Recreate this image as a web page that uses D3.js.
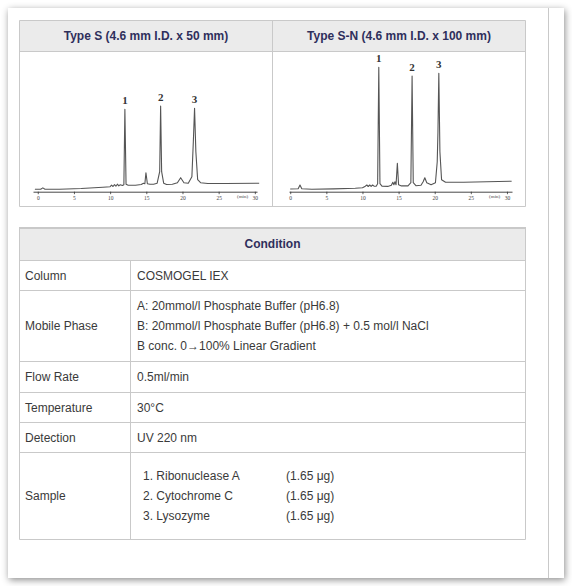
<!DOCTYPE html>
<html>
<head>
<meta charset="utf-8">
<script src="https://cdn.jsdelivr.net/npm/d3@7"></script>
<style>
  body { margin: 0; background: #fff; width: 572px; height: 586px; overflow: hidden; }
  #panel { position: absolute; left: 8px; top: 8px; width: 556px; height: 570px; background: #fff;
           box-shadow: 1px 2px 7px rgba(0,0,0,0.45); }
  #vis { position: absolute; left: 0; top: 0; }
  text { font-family: Arial, "Liberation Sans", sans-serif; }
  text.serif { font-family: "Liberation Serif", "Times New Roman", serif; }
</style>
</head>
<body>
<div id="panel"></div>
<div id="vis"></div>
<script>
const width = 572;
const height = 586;

// column titles
const columnTitles = ["Type S (4.6 mm I.D. x 50 mm)", "Type S-N (4.6 mm I.D. x 100 mm)"];

// chromatogram, Type S : time (min) / signal
const typeSTime = [-0.4, 0.4, 0.7, 1.0, 3, 6, 9, 10, 10.2, 10.4, 10.6, 10.8, 11.0, 11.2, 11.4, 11.7, 11.9, 12.04, 12.2, 12.5, 13.5,
  14.3, 14.6, 14.8, 14.95, 15.15, 15.5, 16.0, 16.5, 16.85, 16.98, 17.12, 17.4, 17.8, 18.6, 19.3, 19.75, 20.2, 20.8,
  21.3, 21.5, 21.67, 21.85, 22.1, 22.5, 23.5, 26, 30.6];
const typeSSignal = [2.4, 2.4, 3.8, 2.4, 2.5, 3.2, 4.5, 5, 6.5, 5.2, 7, 5.5, 7.5, 5.8, 7, 6.2, 7, 82.4, 7.5, 6.5, 6.5,
  7.2, 8.5, 8, 19, 8, 7.5, 7.5, 8.5, 20, 85.7, 20, 8.5, 7.2, 7.5, 9, 14, 9, 8.5,
  15, 50, 83.4, 40, 12, 9, 8.2, 8.2, 8.5];

// chromatogram, Type S-N
const typeSNTime = [0, 1.1, 1.35, 1.6, 3, 6, 9, 10, 10.4, 10.6, 10.8, 11.0, 11.2, 11.4, 11.6, 11.9, 12.1, 12.26, 12.42, 12.7, 13.5,
  14.0, 14.2, 14.35, 14.5, 14.65, 14.83, 15.0, 15.4, 16.3, 16.7, 16.87, 17.03, 17.4, 18.1, 18.4, 18.63, 18.9, 19.5,
  20.1, 20.35, 20.45, 20.57, 20.72, 20.95, 21.5, 24, 30.65];
const typeSNSignal = [2.7, 2.9, 6.7, 3, 2.5, 2.8, 3.5, 4, 5.5, 6.7, 5.2, 6.7, 5.3, 6.7, 5.5, 5.5, 8, 124.4, 8, 5.5, 5.3,
  6.5, 9.5, 7, 10, 7, 28.4, 7, 5.8, 5.8, 9, 115.7, 9, 6, 6.5, 10, 14, 9, 7,
  9, 30, 60, 118.4, 40, 12, 9.4, 9.5, 10.5];

// numbered peaks
const peakLabels = ["1", "2", "3"];
const typeSPeakTime = [12.04, 16.98, 21.67];
const typeSPeakSignal = [82.4, 85.7, 83.4];
const typeSNPeakTime = [12.26, 16.87, 20.57];
const typeSNPeakSignal = [124.4, 115.7, 118.4];

const timeTicks = [0, 5, 10, 15, 20, 25, 30];

// condition table
const conditionTitle = "Condition";
const conditionLabels = ["Column", "Mobile Phase", "Flow Rate", "Temperature", "Detection", "Sample"];
const conditionValues = [
  ["COSMOGEL IEX"],
  ["A: 20mmol/l Phosphate Buffer (pH6.8)", "B: 20mmol/l Phosphate Buffer (pH6.8) + 0.5 mol/l NaCl", "B conc. 0\u2192100% Linear Gradient"],
  ["0.5ml/min"],
  ["30\u00B0C"],
  ["UV 220 nm"]
];
const sampleNames = ["1. Ribonuclease A", "2. Cytochrome C", "3. Lysozyme"];
const sampleAmounts = ["(1.65 \u03BCg)", "(1.65 \u03BCg)", "(1.65 \u03BCg)"];

const borderColor = "#c9c9c9";
const headFill = "#ebebeb";
const headText = "#2f2f5c";
const bodyText = "#3a3a3a";

const svg = d3.select("#vis")
  .append("svg")
  .attr("width", width)
  .attr("height", height);

// divider on the right of the panel
svg.append("line")
  .attr("x1", 548.5).attr("x2", 548.5).attr("y1", 8).attr("y2", 578)
  .attr("stroke", borderColor);

// ---------- top table with the two chromatograms ----------
const t1 = { left: 19.5, right: 525.5, top: 20.5, headBottom: 51.5, bottom: 206.5, mid: 272.5 };

svg.append("rect")
  .attr("x", t1.left).attr("y", t1.top)
  .attr("width", t1.right - t1.left).attr("height", t1.headBottom - t1.top)
  .attr("fill", headFill);

const t1Lines = [
  [t1.left, t1.top, t1.right, t1.top],
  [t1.left, t1.headBottom, t1.right, t1.headBottom],
  [t1.left, t1.bottom, t1.right, t1.bottom],
  [t1.left, t1.top, t1.left, t1.bottom],
  [t1.right, t1.top, t1.right, t1.bottom],
  [t1.mid, t1.top, t1.mid, t1.bottom]
];
svg.selectAll("line.t1")
  .data(t1Lines)
  .enter()
  .append("line")
  .attr("class", "t1")
  .attr("x1", d => d[0]).attr("y1", d => d[1]).attr("x2", d => d[2]).attr("y2", d => d[3])
  .attr("stroke", borderColor);

svg.selectAll("text.coltitle")
  .data(columnTitles)
  .enter()
  .append("text")
  .attr("class", "coltitle")
  .attr("x", (d, i) => i === 0 ? (t1.left + t1.mid) / 2 : (t1.mid + t1.right) / 2)
  .attr("y", 40)
  .attr("text-anchor", "middle")
  .attr("font-size", "12px")
  .attr("font-weight", "bold")
  .attr("fill", headText)
  .text(d => d);

const yScale = d3.scaleLinear().domain([0, 130]).range([191.7, 61.7]);

function drawChromatogram(times, signals, peakT, peakS, domain, range) {
  const xScale = d3.scaleLinear().domain(domain).range(range);
  const g = svg.append("g");

  const xAxis = d3.axisBottom(xScale)
    .tickValues(timeTicks)
    .tickSize(2.5)
    .tickSizeOuter(0)
    .tickPadding(1.5)
    .tickFormat(d3.format("d"));

  const ax = g.append("g")
    .attr("transform", "translate(0,191.7)")
    .call(xAxis);
  ax.select(".domain").attr("stroke", "#333").attr("stroke-width", 0.9);
  ax.selectAll(".tick line").attr("stroke", "#333").attr("stroke-width", 0.8);
  ax.selectAll(".tick text")
    .attr("class", "serif")
    .attr("fill", "#444")
    .attr("font-size", "5.5px");

  g.append("text")
    .attr("class", "serif")
    .attr("x", xScale(28.3))
    .attr("y", 197.8)
    .attr("text-anchor", "middle")
    .attr("font-size", "5px")
    .attr("fill", "#444")
    .text("(min)");

  const pts = times.map((t, i) => [t, signals[i]]);
  const line = d3.line()
    .x(d => xScale(d[0]))
    .y(d => yScale(d[1]));

  g.append("path")
    .datum(pts)
    .attr("d", line)
    .attr("fill", "none")
    .attr("stroke", "#555")
    .attr("stroke-width", 1.1)
    .attr("stroke-linejoin", "round");

  g.selectAll("text.peak")
    .data(peakLabels)
    .enter()
    .append("text")
    .attr("class", "serif")
    .attr("x", (d, i) => xScale(peakT[i]))
    .attr("y", (d, i) => yScale(peakS[i]) - 5.5)
    .attr("text-anchor", "middle")
    .attr("font-size", "11px")
    .attr("font-weight", "bold")
    .attr("fill", "#333")
    .text(d => d);
}

drawChromatogram(typeSTime, typeSSignal, typeSPeakTime, typeSPeakSignal, [-0.66, 30.3], [33, 257]);
drawChromatogram(typeSNTime, typeSNSignal, typeSNPeakTime, typeSNPeakSignal, [-0.17, 30.7], [289, 512]);

// ---------- condition table ----------
const t2 = { left: 19.5, right: 525.5, top: 228, headBottom: 260.5, split: 130.5 };
const rowEdges = [260.5, 290.5, 361.5, 392.5, 422.5, 452.5, 539.5];

svg.append("rect")
  .attr("x", t2.left).attr("y", t2.top)
  .attr("width", t2.right - t2.left).attr("height", t2.headBottom - t2.top)
  .attr("fill", headFill);

svg.append("line")
  .attr("x1", t2.left - 0.5).attr("x2", t2.right + 0.5).attr("y1", t2.top).attr("y2", t2.top)
  .attr("stroke", borderColor).attr("stroke-width", 2);

svg.selectAll("line.row")
  .data(rowEdges)
  .enter()
  .append("line")
  .attr("class", "row")
  .attr("x1", t2.left).attr("x2", t2.right)
  .attr("y1", d => d).attr("y2", d => d)
  .attr("stroke", borderColor);

[t2.left, t2.right].forEach(x => {
  svg.append("line")
    .attr("x1", x).attr("x2", x).attr("y1", t2.top).attr("y2", rowEdges[rowEdges.length - 1])
    .attr("stroke", borderColor);
});
svg.append("line")
  .attr("x1", t2.split).attr("x2", t2.split).attr("y1", t2.headBottom).attr("y2", rowEdges[rowEdges.length - 1])
  .attr("stroke", borderColor);

svg.append("text")
  .attr("x", (t2.left + t2.right) / 2)
  .attr("y", 248)
  .attr("text-anchor", "middle")
  .attr("font-size", "12px")
  .attr("font-weight", "bold")
  .attr("fill", headText)
  .text(conditionTitle);

conditionLabels.forEach((label, i) => {
  const cy = (rowEdges[i] + rowEdges[i + 1]) / 2;
  svg.append("text")
    .attr("x", 25)
    .attr("y", cy + 4)
    .attr("font-size", "12px")
    .attr("fill", bodyText)
    .text(label);

  if (i < conditionValues.length) {
    const vals = conditionValues[i];
    vals.forEach((v, j) => {
      svg.append("text")
        .attr("x", 137)
        .attr("y", cy + 4 + (j - (vals.length - 1) / 2) * 20)
        .attr("font-size", "12px")
        .attr("fill", bodyText)
        .text(v);
    });
  } else {
    sampleNames.forEach((s, j) => {
      const yy = cy + 4 + (j - (sampleNames.length - 1) / 2) * 20;
      svg.append("text")
        .attr("x", 143).attr("y", yy)
        .attr("font-size", "12px")
        .attr("fill", bodyText)
        .text(s);
      svg.append("text")
        .attr("x", 286).attr("y", yy)
        .attr("font-size", "12px")
        .attr("fill", bodyText)
        .text(sampleAmounts[j]);
    });
  }
});
</script>
</body>
</html>
